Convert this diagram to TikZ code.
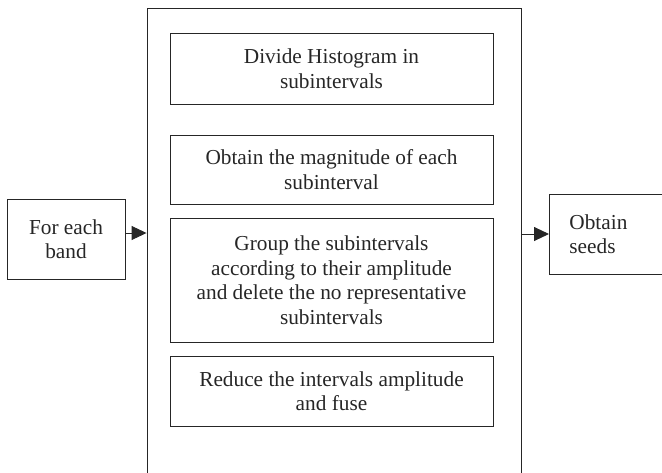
\documentclass[tikz,border=0pt]{standalone}
\usepackage{fontspec}
\setmainfont{Liberation Serif}
\usetikzlibrary{arrows.meta}
\begin{document}
\begin{tikzpicture}[x=1pt,y=-1pt,
  font=\fontsize{21.3}{24.5}\selectfont,
  frame/.style={draw=black!85,line width=0.9pt,text=black!85},
  stepbox/.style={frame,minimum width=323pt,align=center,inner sep=0pt},
  flow/.style={draw=black!85,line width=0.9pt,-{Triangle[length=15pt,width=14pt]}}]
\useasboundingbox (0,0) rectangle (662,472);
% enclosing process block (open at the bottom of the page)
\node[frame,minimum width=374pt,minimum height=482pt,inner sep=0pt] (outer) at (334,249) {};
% inner steps
\node[stepbox,minimum height=71pt] (s1) at (331.5,68.5) {Divide Histogram in\\subintervals};
\node[stepbox,minimum height=69pt] (s2) at (331.5,169.5) {Obtain the magnitude of each\\subinterval};
\node[stepbox,minimum height=124pt] (s3) at (331.5,280) {Group the subintervals\\according to their amplitude\\and delete the no representative\\subintervals};
\node[stepbox,minimum height=70pt] (s4) at (331.5,391) {Reduce the intervals amplitude\\and fuse};
% input and output
\node[frame,minimum width=118pt,minimum height=80pt,align=center,inner sep=0pt] (in) at (66,239) {For each\\band};
\node[frame,anchor=west,text width=100pt,inner xsep=20pt,minimum height=80pt,align=left] (out) at (549,234) {Obtain\\seeds};
% connectors
\coordinate (inA) at ([yshift=6pt]in.east);
\draw[flow] (inA) -- (inA -| outer.west);
\draw[flow] (out.west -| outer.east) -- (out.west);
\end{tikzpicture}
\end{document}
